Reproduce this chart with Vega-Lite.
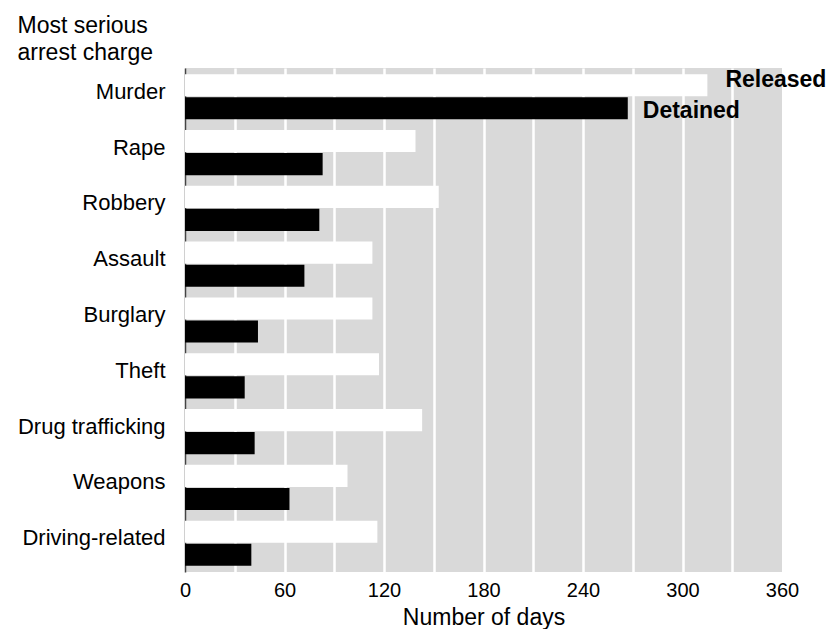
{
  "$schema": "https://vega.github.io/schema/vega-lite/v6.json",
  "width": 597,
  "height": 504,
  "autosize": {"type": "none"},
  "padding": {"left": 185, "top": 68, "right": 50, "bottom": 57},
  "background": "white",
  "config": {
    "font": "Liberation Sans",
    "view": {"fill": "#d9d9d9", "stroke": null}
  },
  "data": {
    "values": [
      {"charge": "Murder", "status": "Released", "days": 315},
      {"charge": "Murder", "status": "Detained", "days": 267},
      {"charge": "Rape", "status": "Released", "days": 139},
      {"charge": "Rape", "status": "Detained", "days": 83},
      {"charge": "Robbery", "status": "Released", "days": 153},
      {"charge": "Robbery", "status": "Detained", "days": 81},
      {"charge": "Assault", "status": "Released", "days": 113},
      {"charge": "Assault", "status": "Detained", "days": 72},
      {"charge": "Burglary", "status": "Released", "days": 113},
      {"charge": "Burglary", "status": "Detained", "days": 44},
      {"charge": "Theft", "status": "Released", "days": 117},
      {"charge": "Theft", "status": "Detained", "days": 36},
      {"charge": "Drug  trafficking", "status": "Released", "days": 143},
      {"charge": "Drug  trafficking", "status": "Detained", "days": 42},
      {"charge": "Weapons", "status": "Released", "days": 98},
      {"charge": "Weapons", "status": "Detained", "days": 63},
      {"charge": "Driving-related", "status": "Released", "days": 116},
      {"charge": "Driving-related", "status": "Detained", "days": 40}
    ]
  },
  "encoding": {
    "y": {
      "field": "charge",
      "type": "nominal",
      "sort": null,
      "scale": {"paddingInner": 0.19, "paddingOuter": 0.11},
      "axis": {
        "title": ["Most serious", "arrest charge"],
        "titleAngle": 0,
        "titleAlign": "left",
        "titleBaseline": "top",
        "titleX": -168,
        "titleY": -54,
        "titleLineHeight": 27,
        "titleFontSize": 23,
        "titleFontWeight": "normal",
        "titleColor": "black",
        "labelFontSize": 22,
        "labelColor": "black",
        "labelPadding": 20,
        "labelOffset": -5,
        "labelBaseline": "middle",
        "ticks": false,
        "domainColor": "#444",
        "domainWidth": 1.5,
        "grid": false
      }
    },
    "x": {
      "field": "days",
      "type": "quantitative",
      "scale": {"domain": [0, 360], "nice": false},
      "axis": {
        "title": "Number of days",
        "titleFontSize": 23,
        "titleFontWeight": "normal",
        "titleColor": "black",
        "titlePadding": 6,
        "values": [0, 30, 60, 90, 120, 150, 180, 210, 240, 270, 300, 330, 360],
        "labelExpr": "datum.value % 60 == 0 ? datum.label : ''",
        "labelFontSize": 20,
        "labelColor": "black",
        "labelPadding": 8,
        "labelFlush": false,
        "labelOverlap": false,
        "ticks": false,
        "domain": false,
        "grid": true,
        "gridColor": {"condition": {"test": "datum.value == 0 || datum.value == 360", "value": "transparent"}, "value": "white"},
        "gridWidth": 2.5,
        "gridOpacity": 1
      }
    }
  },
  "layer": [
    {
      "mark": {"type": "bar"},
      "encoding": {
        "yOffset": {
          "field": "status",
          "type": "nominal",
          "sort": ["Released", "Detained"],
          "scale": {"paddingInner": 0.04}
        },
        "color": {
          "field": "status",
          "type": "nominal",
          "scale": {"domain": ["Released", "Detained"], "range": ["#ffffff", "#000000"]},
          "legend": null
        }
      }
    },
    {
      "transform": [{"filter": "datum.charge == 'Murder' && datum.status == 'Released'"}],
      "mark": {"type": "text", "align": "left", "baseline": "middle", "dx": 18, "dy": -5, "fontSize": 23, "fontWeight": "bold", "color": "black"},
      "encoding": {
        "yOffset": {"field": "status", "type": "nominal", "sort": ["Released", "Detained"]},
        "text": {"field": "status"}
      }
    },
    {
      "transform": [{"filter": "datum.charge == 'Murder' && datum.status == 'Detained'"}],
      "mark": {"type": "text", "align": "left", "baseline": "middle", "dx": 15, "dy": 3, "fontSize": 23, "fontWeight": "bold", "color": "black"},
      "encoding": {
        "yOffset": {"field": "status", "type": "nominal", "sort": ["Released", "Detained"]},
        "text": {"field": "status"}
      }
    }
  ]
}
